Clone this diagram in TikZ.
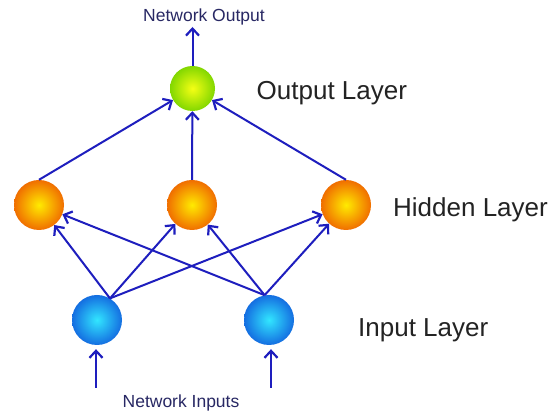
\documentclass[tikz,border=0pt]{standalone}
\usepackage{fontspec}
\setmainfont{Liberation Sans}
\usetikzlibrary{arrows.meta}
\definecolor{linkblue}{RGB}{30,30,190}
\definecolor{labelnavy}{RGB}{40,40,100}
\definecolor{labelgray}{RGB}{35,35,35}
\tikzset{
  neuron/.style={circle, minimum size=50pt, inner sep=0pt, shading=radial},
  inneuron/.style={neuron, inner color={rgb,255:red,50;green,230;blue,255}, outer color={rgb,255:red,20;green,110;blue,225}},
  hidneuron/.style={neuron, inner color={rgb,255:red,255;green,235;blue,0}, outer color={rgb,255:red,240;green,110;blue,0}},
  outneuron/.style={neuron, minimum size=45pt, inner color={rgb,255:red,245;green,255;blue,20}, outer color={rgb,255:red,130;green,215;blue,0}},
  link/.style={draw=linkblue, line width=2pt, -{Straight Barb[length=7pt,width=13pt,line width=2.2pt]}},
  layerlabel/.style={anchor=base west, inner sep=0pt, font=\fontsize{26}{30}\selectfont, text=labelgray},
  iolabel/.style={anchor=base, inner sep=0pt, font=\fontsize{17.5}{20}\selectfont, text=labelnavy}
}
\begin{document}
\begin{tikzpicture}[x=1pt, y=-1pt]
  \useasboundingbox[fill=white] (0,0) rectangle (552,419);

  % neurons
  \node[outneuron] (out) at (192.5,88.5) {};
  \node[hidneuron] (h1) at (39,205) {};
  \node[hidneuron] (h2) at (192,205) {};
  \node[hidneuron] (h3) at (346,205) {};
  \node[inneuron] (in1) at (97,320) {};
  \node[inneuron] (in2) at (269,320) {};

  % common fan-out points at the top of each input neuron
  \coordinate (s1) at (in1.59);
  \coordinate (s2) at (in2.100);

  % input -> hidden
  \foreach \h in {h1,h2,h3} {
    \draw[link] (s1) -- (\h);
    \draw[link] (s2) -- (\h);
  }

  % hidden -> output
  \draw[link] (h1.north) -- (out);
  \draw[link] (h2.north) -- (out);
  \draw[link] (h3.north) -- (out);

  % network output and inputs
  \coordinate (outtip) at (192.5,27);
  \draw[link] (out.north) -- (outtip);
  \coordinate (x1) at (96,388);
  \coordinate (x2) at (271,388);
  \draw[link, shorten >=4pt] (x1) -- (x1 |- in1.south);
  \draw[link, shorten >=4pt] (x2) -- (x2 |- in2.south);

  % labels
  \node[iolabel] (outlbl) at (204,22) {Network Output};
  \node[iolabel] (inlbl) at (181,408) {Network Inputs};
  \node[layerlabel] (lo) at (256.5,100) {Output Layer};
  \node[layerlabel] (lh) at (393,217) {Hidden Layer};
  \node[layerlabel] (li) at (358,337) {Input Layer};
\end{tikzpicture}
\end{document}
